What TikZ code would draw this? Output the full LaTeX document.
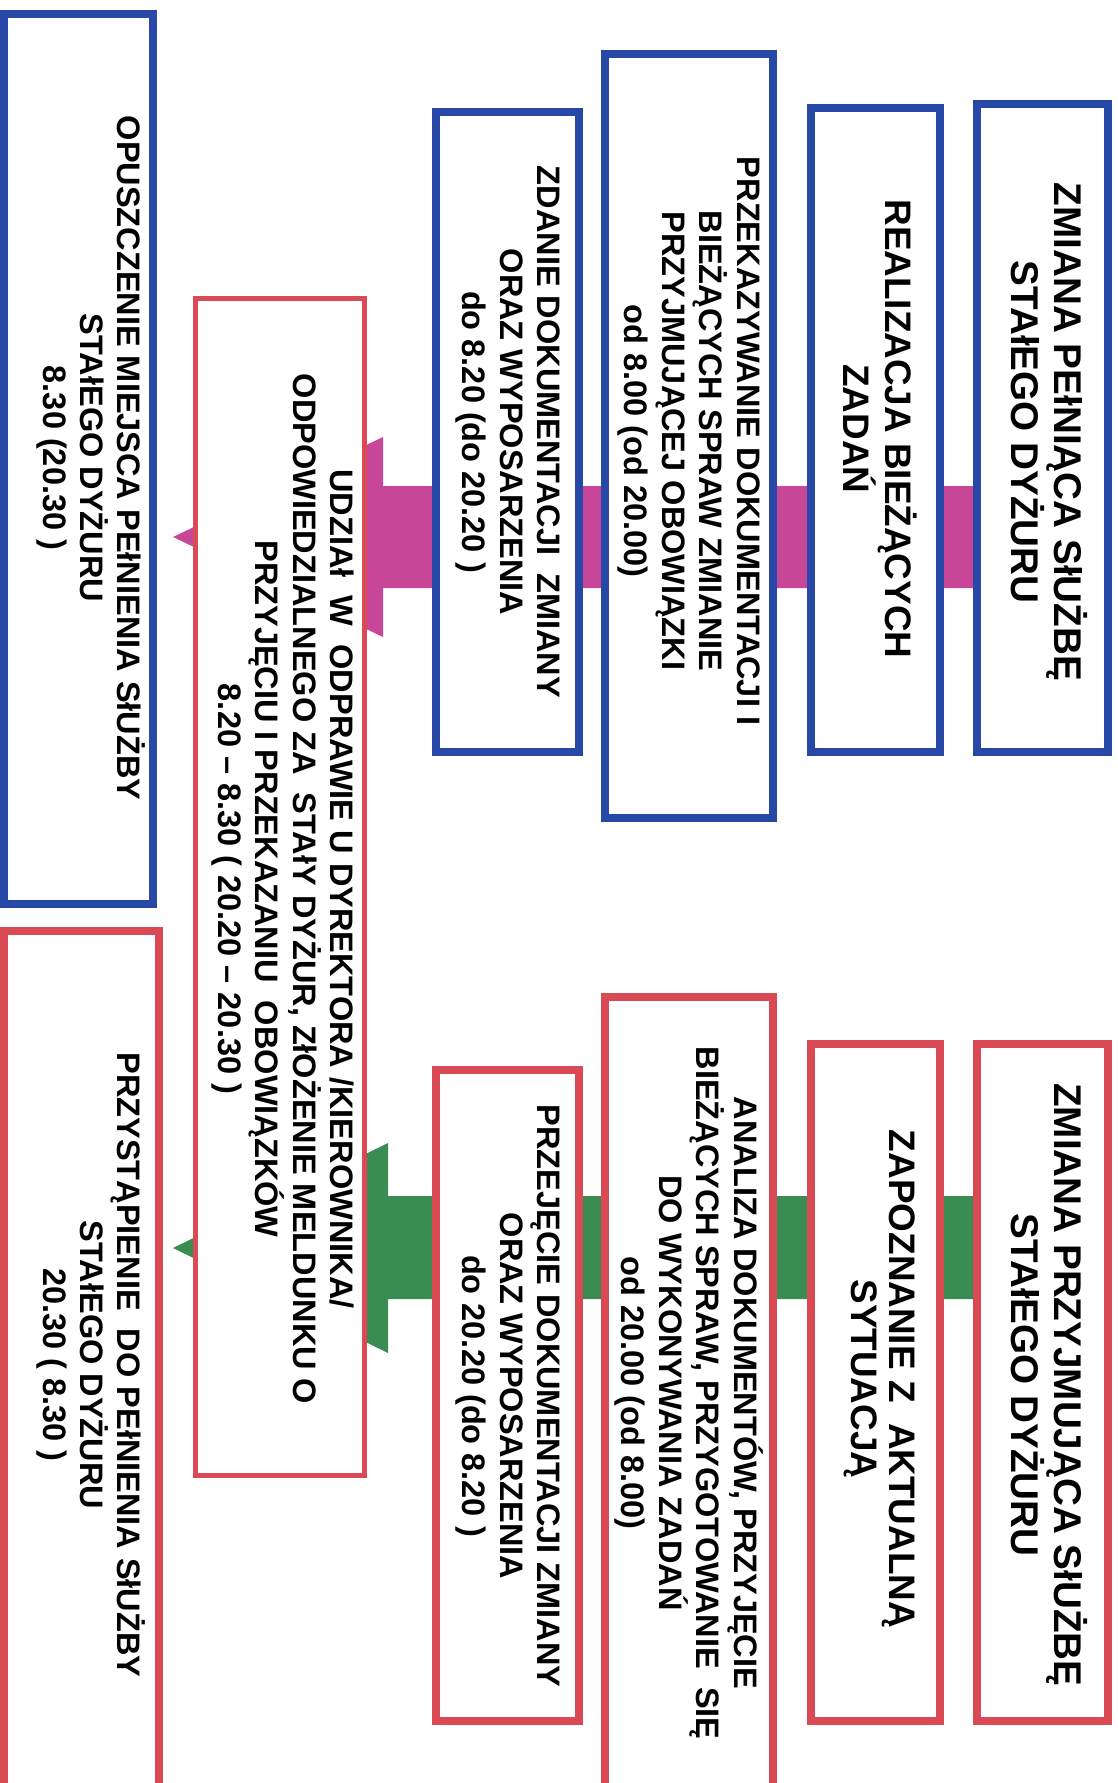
\documentclass[tikz,border=0pt]{standalone}
\usepackage{fontspec}
\setmainfont{Liberation Sans}
\definecolor{myblue}{RGB}{40,72,168}
\definecolor{myred}{RGB}{218,74,84}
\definecolor{mymag}{RGB}{200,70,152}
\definecolor{mygreen}{RGB}{58,140,82}
\begin{document}
\begin{tikzpicture}[x=0.02cm,y=-0.02cm,
  bbox/.style={draw=myblue,fill=white,line width=5pt,inner sep=0pt,outer sep=0pt},
  rbox/.style={draw=myred,fill=white,line width=4.6pt,inner sep=0pt,outer sep=0pt},
  rthin/.style={draw=myred,fill=white,line width=2.8pt,inner sep=0pt,outer sep=0pt},
  tbig/.style={rotate=-90,align=center,font=\fontsize{22}{23}\selectfont\bfseries,inner sep=0pt},
  tmid/.style={rotate=-90,align=center,font=\fontsize{21}{21.5}\selectfont\bfseries,inner sep=0pt},
  tsmall/.style={rotate=-90,align=center,font=\fontsize{18.5}{21.3}\selectfont\bfseries,inner sep=0pt},
  magarrow/.style={fill=mymag,draw=none},
  grnarrow/.style={fill=mygreen,draw=none}]
\useasboundingbox (0,0) rectangle (1118,1783);
\clip (0,0) rectangle (1118,1783);

% block arrows (drawn first, boxes cover them)
\coordinate (magtip) at (173,537);
\coordinate (grntip) at (173,1248);
\fill[magarrow] (1040,486) -- (383,486) -- (383,437) -- (magtip) -- (383,637) -- (383,588) -- (1040,588) -- cycle;
\fill[grnarrow] (1040,1196) -- (388,1196) -- (388,1143) -- (grntip) -- (388,1353) -- (388,1299) -- (1040,1299) -- cycle;

% blue boxes (top)
\node[bbox,minimum width=2.62cm,minimum height=12.96cm] (zp) at (1042.5,428) {};
\node[tbig] (zpT) at (1049,432) {ZMIANA PEłNIĄCA SłUŻBĘ\\STAłEGO DYŻURU};

\node[bbox,minimum width=2.58cm,minimum height=12.88cm] (rb) at (875.5,430) {};
\node[tmid] (rbT) at (880,429) {REALIZACJA BIEŻĄCYCH\\ZADAŃ};

\node[bbox,minimum width=3.36cm,minimum height=15.28cm] (pd) at (689,436) {};
\node[tsmall] (pdT) at (689,441) {PRZEKAZYWANIE DOKUMENTACJI I\\BIEŻĄCYCH SPRAW ZMIANIE\\PRZYJMUJĄCEJ OBOWIĄZKI\\od 8.00 (od 20.00)};

\node[bbox,minimum width=2.86cm,minimum height=12.8cm] (zd) at (507.5,432) {};
\node[tsmall] (zdT) at (508,432) {ZDANIE DOKUMENTACJI\ \ ZMIANY\\ORAZ WYPOSARZENIA\\do 8.20 (do 20.20 )};

\node[bbox,minimum width=2.98cm,minimum height=17.8cm] (op) at (78.5,459) {};
\node[tsmall] (opT) at (91,458) {OPUSZCZENIE MIEJSCA PEłNIENIA SłUŻBY\\STAłEGO DYŻURU\\8.30 (20.30 )};

% red boxes (bottom)
\node[rbox,minimum width=2.62cm,minimum height=13.54cm] (zpp) at (1042.5,1382.5) {};
\node[tbig] (zppT) at (1049,1385) {ZMIANA PRZYJMUJĄCA SłUŻBĘ\\STAłEGO DYŻURU};

\node[rbox,minimum width=2.58cm,minimum height=13.54cm] (zap) at (875.5,1382.5) {};
\node[tmid] (zapT) at (880,1379) {ZAPOZNANIE Z\ \ AKTUALNĄ\\SYTUACJĄ};

\node[rbox,minimum width=3.36cm,minimum height=15.98cm] (an) at (689,1396.5) {};
\node[tsmall] (anT) at (689,1393) {ANALIZA DOKUMENTÓW, PRZYJĘCIE\\BIEŻĄCYCH SPRAW, PRZYGOTOWANIE\ \ SIĘ\\DO WYKONYWANIA ZADAŃ\\od 20.00 (od 8.00)};

\node[rbox,minimum width=2.86cm,minimum height=13.02cm] (pj) at (507.5,1395.5) {};
\node[tsmall] (pjT) at (508,1396) {PRZEJĘCIE DOKUMENTACJI ZMIANY\\ORAZ WYPOSARZENIA\\do 20.20 (do 8.20 )};

\node[rbox,minimum width=3.1cm,minimum height=17.3cm] (prz) at (81.5,1363.5) {};
\node[tsmall] (przT) at (91,1365) {PRZYSTĄPIENIE\ \ DO PEłNIENIA SłUŻBY\\STAłEGO DYŻURU\\20.30 ( 8.30 )};

% central box
\node[rthin,minimum width=3.38cm,minimum height=23.54cm] (ud) at (280,887) {};
\node[tsmall] (udT) at (283,889) {UDZIAł\ \ W\ \ ODPRAWIE U DYREKTORA /KIEROWNIKA/\\ODPOWIEDZIALNEGO ZA\ \ STAłY DYŻUR, ZłOŻENIE MELDUNKU O\\PRZYJĘCIU I PRZEKAZANIU\ \ OBOWIĄZKÓW\\8.20 – 8.30 ( 20.20 – 20.30 )};
\end{tikzpicture}
\end{document}
